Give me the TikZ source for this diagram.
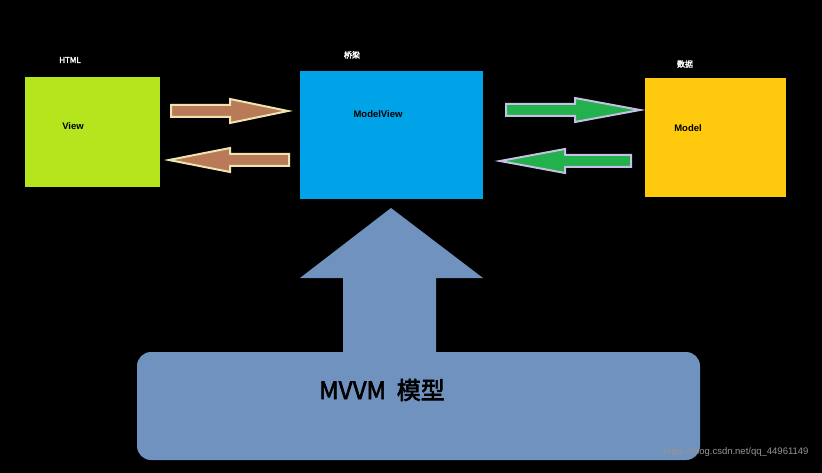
\documentclass[tikz,border=0pt]{standalone}
\usepackage{fontspec}
\setmainfont{Liberation Sans}
\newfontfamily\cjk[AutoFakeBold=2.5]{Noto Sans CJK SC}
\begin{document}
\begin{tikzpicture}[x=1pt,y=-1pt,
  lbl/.style={text=white,font=\cjk\bfseries\fontsize{8}{9}\selectfont},
  inner/.style={text=black,font=\bfseries\fontsize{9.5}{11}\selectfont},
  box/.style={draw=none,minimum width=0,inner sep=0}]
\fill[black] (0,0) rectangle (822,473);
\useasboundingbox (0,0) rectangle (822,473);
% boxes
\fill[fill={rgb,255:red,181;green,230;blue,29}] (25,77) rectangle (160,187);
\fill[fill={rgb,255:red,0;green,162;blue,232}] (300,71) rectangle (483,199);
\fill[fill={rgb,255:red,255;green,201;blue,14}] (645,78) rectangle (786,197);
\node[lbl] (h) at (70,60) {HTML};
\node[lbl] (b) at (352,55) {桥梁};
\node[lbl] (d) at (685,64) {数据};
\node[inner] (v) at (73,126) {View};
\node[inner] (mv) at (378,114) {ModelView};
\node[inner] (m) at (688,128) {Model};
% brown arrows
\tikzset{brown/.style={fill={rgb,255:red,185;green,122;blue,87},draw={rgb,255:red,239;green,228;blue,176},line width=2pt,line join=miter},
 grn/.style={fill={rgb,255:red,34;green,177;blue,76},draw={rgb,255:red,200;green,191;blue,231},line width=2pt}}
\path[brown] (171,105)--(230,105)--(230,99)--(288,111)--(230,123)--(230,117)--(171,117)--cycle;
\path[brown] (289,154)--(230,154)--(230,148)--(169,160)--(230,172)--(230,166)--(289,166)--cycle;
\path[grn] (506,104)--(575,104)--(575,98)--(640,110)--(575,122)--(575,116)--(506,116)--cycle;
\path[grn] (631,155)--(565,155)--(565,149)--(500,161)--(565,173)--(565,167)--(631,167)--cycle;
% big up arrow
\fill[fill={rgb,255:red,112;green,146;blue,190}] (343,352)--(343,278)--(300,278)--(391,208)--(483,278)--(436,278)--(436,352)--cycle;
\fill[fill={rgb,255:red,112;green,146;blue,190},rounded corners=14pt] (137,352) rectangle (700,460);
\node[text=black,font=\cjk\bfseries\fontsize{24}{28}\selectfont] (t) at (382,390) {MVVM\ \ 模型};
\node[text={rgb,255:red,150;green,150;blue,150},font=\fontsize{9.5}{11}\selectfont,anchor=east] (w) at (812,452) {https://blog.csdn.net/qq\_44961149};
\end{tikzpicture}
\end{document}
